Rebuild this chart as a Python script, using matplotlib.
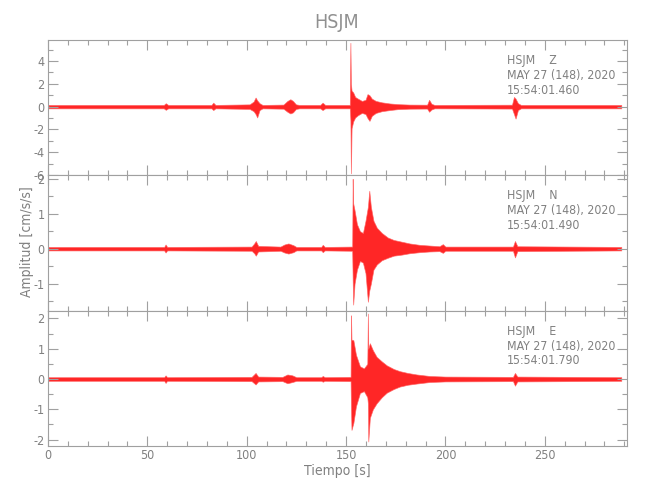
import matplotlib
matplotlib.use('Agg')
import matplotlib.pyplot as plt
from matplotlib.ticker import MultipleLocator

plt.rcParams['font.family'] = ['DejaVu Sans']
plt.rcParams['font.stretch'] = 'condensed'
plt.rcParams['axes.unicode_minus'] = False

# envelope of each trace: time [s], upper and lower amplitude [cm/s/s]
t_z = [0.3, 30, 58.3, 59.3, 60.5, 82.3, 83.2, 84.3, 101.5, 103.5, 104.5, 105.3, 106.5, 108,
       118.5, 120.5, 122, 123.3, 124.8, 126.5, 137, 138.2, 139.5, 151.9, 152.2, 152.45, 152.8,
       153.6, 154.6, 156, 158, 159.8, 160.8, 161.8, 163, 165, 168, 172, 176, 182, 190.8, 191.8,
       193, 194.5, 233.5, 234.5, 235.3, 236.5, 238, 288.5]
up_z = [.15, .15, .15, .3, .15, .15, .35, .15, .2, .45, .8, .55, .3, .15,
        .18, .5, .65, .5, .2, .15, .15, .35, .15, .15, 5.6, 2.0, 1.4,
        1.25, .85, .7, .5, .6, 1.1, 1.0, .7, .5, .38, .28, .22, .18, .17, .6,
        .25, .15, .17, .85, .7, .3, .15, .15]
lo_z = [-.15, -.15, -.15, -.28, -.15, -.15, -.3, -.15, -.2, -.4, -.65, -.95, -.3, -.15,
        -.18, -.45, -.6, -.5, -.2, -.15, -.15, -.3, -.15, -.15, -1.2, -5.85, -1.9,
        -1.3, -.95, -.75, -.55, -.65, -1.0, -1.25, -.8, -.55, -.4, -.3, -.22, -.18, -.17, -.45,
        -.25, -.15, -.17, -.65, -1.05, -.3, -.15, -.15]

t_n = [0.3, 58.5, 59.2, 60, 102.5, 103.8, 104.6, 105.8, 117, 119, 121, 123.5, 125,
       137.5, 138.3, 139.3, 153.1, 153.35, 153.6, 154.3, 155.5, 157, 158.5, 159.8, 161,
       161.7, 162.5, 163.8, 165.5, 168, 171, 174, 178, 182, 187, 192, 197, 198.7, 200,
       234, 235, 236.2, 288.5]
up_n = [.05, .05, .12, .05, .06, .15, .22, .08, .06, .12, .15, .1, .05,
        .05, .11, .05, .06, 2.0, 1.3, 1.1, .7, .5, .45, .8, 1.2,
        1.66, 1.2, .8, .6, .45, .32, .25, .2, .15, .11, .09, .07, .13, .06,
        .06, .22, .07, .05]
lo_n = [-.05, -.05, -.11, -.05, -.06, -.13, -.2, -.08, -.06, -.11, -.14, -.1, -.05,
        -.05, -.1, -.05, -.06, -.9, -1.6, -1.0, -.6, -.35, -.4, -.7, -1.52,
        -1.2, -1.0, -.6, -.45, -.33, -.26, -.2, -.17, -.13, -.1, -.08, -.07, -.12, -.06,
        -.06, -.25, -.07, -.05]

t_e = [0.3, 58.5, 59.2, 60, 102.5, 104.5, 105.8, 118, 120.5, 123, 125, 137.5, 138.3, 139.3,
       152.3, 152.5, 152.75, 153.7, 155, 157, 159, 160.7, 161.0, 161.2, 162, 163.5, 165.4,
       168, 170.5, 174, 177, 181, 185.5, 192, 200, 234, 235, 236.2, 288.5]
up_e = [.06, .06, .12, .06, .07, .2, .08, .07, .15, .12, .06, .06, .1, .06,
        .07, 2.1, 1.3, 1.28, .8, .42, .35, .5, 2.16, 1.0, 1.18, .95, .73,
        .58, .45, .33, .26, .2, .15, .1, .08, .07, .2, .08, .06]
lo_e = [-.06, -.06, -.13, -.06, -.07, -.18, -.08, -.07, -.14, -.1, -.06, -.06, -.09, -.06,
        -.07, -1.0, -1.68, -1.45, -.9, -.46, -.4, -.6, -.8, -2.06, -1.28, -1.0, -.8,
        -.6, -.45, -.33, -.25, -.19, -.15, -.1, -.08, -.07, -.22, -.08, -.06]

comps = ['Z', 'N', 'E']
times = ['15:54:01.460', '15:54:01.490', '15:54:01.790']
ylims = [(-6.0, 5.85), (-1.77, 2.11), (-2.21, 2.26)]
ysteps = [(2, 1), (1, 0.5), (1, 0.5)]
traces = [(t_z, up_z, lo_z), (t_n, up_n, lo_n), (t_e, up_e, lo_e)]

gray = '#a0a0a0'
tgray = '#808080'

fig = plt.figure(figsize=(6.5, 5), dpi=100)
boxes = [(0.65, 0.27), (0.379, 0.271), (0.108, 0.271)]

for i in range(3):
    ax = fig.add_axes([0.0737, boxes[i][0], 0.891, boxes[i][1]])
    t, up, lo = traces[i]
    ax.fill_between(t, lo, up, color='#ff0000', alpha=0.85, lw=0.5, edgecolor='#ff6060')
    ax.set_xlim(0, 291.4)
    ax.set_ylim(*ylims[i])
    ax.xaxis.set_major_locator(MultipleLocator(50))
    ax.xaxis.set_minor_locator(MultipleLocator(10))
    ax.yaxis.set_major_locator(MultipleLocator(ysteps[i][0]))
    ax.yaxis.set_minor_locator(MultipleLocator(ysteps[i][1]))
    ax.tick_params(which='both', direction='in', top=True, right=True,
                   colors=gray, labelcolor=tgray, labelsize=9, width=0.8)
    ax.tick_params(which='major', length=7, pad=2.5)
    ax.tick_params(which='minor', length=3.5)
    for s in ax.spines.values():
        s.set_color(gray)
        s.set_linewidth(0.8)
    if i < 2:
        ax.tick_params(labelbottom=False)
    ax.annotate('HSJM    ' + comps[i], (0.792, 1), xycoords='axes fraction',
                xytext=(0, -15), textcoords='offset points', va='center',
                color=tgray, fontsize=8.8)
    ax.annotate('MAY 27 (148), 2020', (0.792, 1), xycoords='axes fraction',
                xytext=(0, -25.7), textcoords='offset points', va='center',
                color=tgray, fontsize=8.8)
    ax.annotate(times[i], (0.792, 1), xycoords='axes fraction',
                xytext=(0, -36.3), textcoords='offset points', va='center',
                color=tgray, fontsize=8.8)
    if i == 2:
        ax.set_xlabel('Tiempo [s]', color=tgray, fontsize=10, labelpad=1)

fig.text(0.518, 0.954, 'HSJM', ha='center', va='center', color='#909090', fontsize=14)
fig.text(0.041, 0.517, 'Amplitud [cm/s/s]', rotation=90, ha='center', va='center',
         color=tgray, fontsize=10)

fig.savefig('out.png', dpi=100)
